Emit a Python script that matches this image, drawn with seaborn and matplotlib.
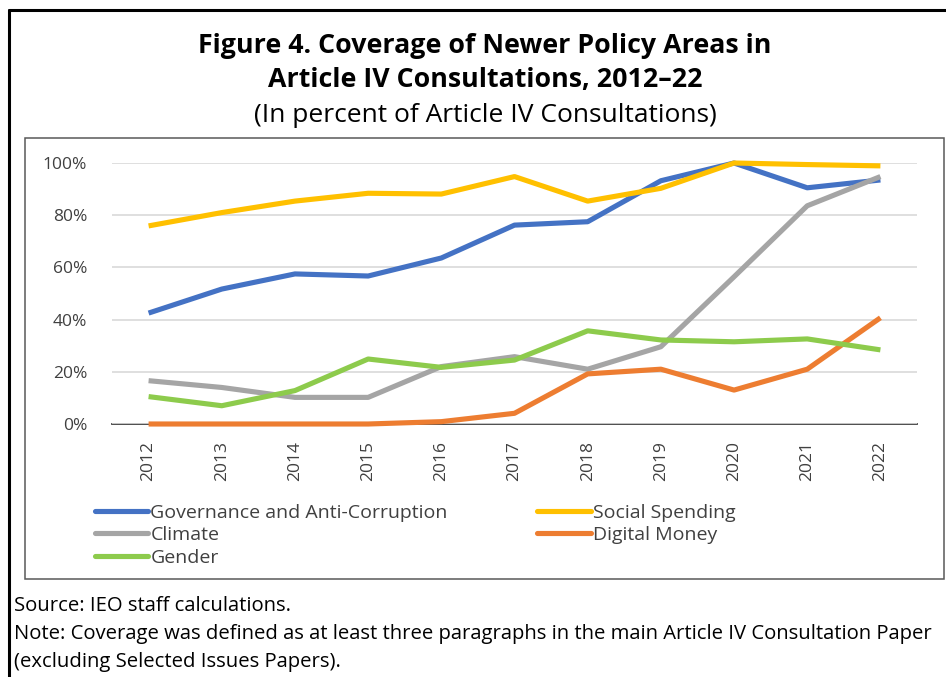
import matplotlib
matplotlib.use("Agg")
import matplotlib.pyplot as plt
import matplotlib.patches as mpatches
import matplotlib.lines as mlines
import seaborn as sns
import pandas as pd

years = [2012, 2013, 2014, 2015, 2016, 2017, 2018, 2019, 2020, 2021, 2022]
governance = [42.5, 51.7, 57.5, 56.7, 63.6, 76.2, 77.5, 93.2, 100.0, 90.5, 93.5]
social = [75.9, 81.0, 85.4, 88.4, 88.1, 94.8, 85.4, 90.3, 100.0, 99.4, 98.9]
climate = [16.6, 14.0, 10.2, 10.2, 22.0, 25.8, 21.0, 29.6, 56.4, 83.6, 94.8]
digital = [0.0, 0.0, 0.0, 0.0, 0.9, 4.1, 19.2, 21.0, 13.0, 21.0, 40.7]
gender = [10.5, 7.0, 12.8, 24.9, 21.7, 24.5, 35.7, 32.2, 31.5, 32.6, 28.4]

series_names = ["Governance and Anti-Corruption", "Social Spending", "Climate",
                "Digital Money", "Gender"]
series_vals = [governance, social, climate, digital, gender]
colors = {"Governance and Anti-Corruption": "#4472C4", "Social Spending": "#FFC000",
          "Climate": "#A5A5A5", "Digital Money": "#ED7D31", "Gender": "#8DCB4C"}

rows = []
for name, vals in zip(series_names, series_vals):
    for y, v in zip(years, vals):
        rows.append({"Year": y, "Value": v, "Series": name})
df = pd.DataFrame(rows)

sns.set_theme(style="white")
FONT = ["Open Sans", "DejaVu Sans"]
plt.rcParams["font.family"] = FONT

W, H = 946, 677
fig = plt.figure(figsize=(W / 100, H / 100), dpi=100)

def fx(px):
    return px / W

def fy(py):
    return 1 - py / H

# outer border (top and left, running off right/bottom edges)
fig.add_artist(mlines.Line2D([fx(9), fx(9)], [fy(10), fy(H + 5)], color="black", lw=2.2,
                             transform=fig.transFigure))
fig.add_artist(mlines.Line2D([fx(9), fx(W + 5)], [fy(10), fy(10)], color="black", lw=2.2,
                             transform=fig.transFigure))
# inner chart box
fig.add_artist(mpatches.Rectangle((fx(25), fy(579)), fx(944) - fx(25), fy(138) - fy(579),
                                  fill=False, edgecolor="#595959", lw=1.1,
                                  transform=fig.transFigure))

# titles
fig.text(fx(485), fy(46), "Figure 4. Coverage of Newer Policy Areas in", ha="center",
         va="center", fontsize=19.3, fontweight="bold", color="black")
fig.text(fx(485), fy(80), "Article IV Consultations, 2012\u201322", ha="center",
         va="center", fontsize=19.3, fontweight="bold", color="black")
fig.text(fx(485), fy(115), "(In percent of Article IV Consultations)", ha="center",
         va="center", fontsize=19, color="black")

ax = fig.add_axes([fx(112), fy(424), fx(917) - fx(112), fy(163) - fy(424)])
sns.lineplot(data=df, x="Year", y="Value", hue="Series", palette=colors,
             hue_order=series_names, linewidth=3.7, ax=ax, legend=False, sort=False)
for ln in ax.lines:
    ln.set_clip_on(False)
    ln.set_solid_capstyle("butt")
    ln.set_solid_joinstyle("round")

ax.set_xlim(2011.5, 2022.5)
ax.set_ylim(0, 100)
ax.set_yticks([0, 20, 40, 60, 80, 100])
ax.set_yticklabels([f"{v}%" for v in [0, 20, 40, 60, 80, 100]])
ax.set_xticks(years)
ax.set_xticklabels([str(y) for y in years], rotation=90)
ax.set_xlabel("")
ax.set_ylabel("")
ax.grid(axis="y", color="#D9D9D9", lw=1.2)
ax.set_axisbelow(True)
for s in ["top", "right", "left"]:
    ax.spines[s].set_visible(False)
ax.spines["bottom"].set_color("#404040")
ax.spines["bottom"].set_linewidth(1.3)
ax.spines["bottom"].set_zorder(0.5)
ax.tick_params(axis="both", length=0, labelsize=12.5, labelcolor="#404040")
ax.tick_params(axis="y", pad=18)
ax.tick_params(axis="x", pad=12)

# legend
leg_order = ["Governance and Anti-Corruption", "Climate", "Gender",
             "Social Spending", "Digital Money"]
handles = [mlines.Line2D([], [], color=colors[n], lw=3.7, solid_capstyle="round")
           for n in leg_order]
leg = fig.legend(handles, leg_order, loc="upper left", bbox_to_anchor=(fx(95), fy(504)),
                 ncol=2, frameon=False, fontsize=14, handlelength=2.75,
                 handletextpad=0.1, columnspacing=4.6, labelspacing=0.22,
                 borderpad=0, borderaxespad=0)
for t in leg.get_texts():
    t.set_color("#404040")

# notes
fig.text(fx(14), fy(606), "Source: IEO staff calculations.", ha="left", va="center",
         fontsize=14.6, color="black")
fig.text(fx(14), fy(634),
         "Note: Coverage was defined as at least three paragraphs in the main Article IV Consultation Paper",
         ha="left", va="center", fontsize=14.6, color="black")
fig.text(fx(14), fy(662), "(excluding Selected Issues Papers).", ha="left", va="center",
         fontsize=14.6, color="black")

fig.savefig("out.png", dpi=100)
